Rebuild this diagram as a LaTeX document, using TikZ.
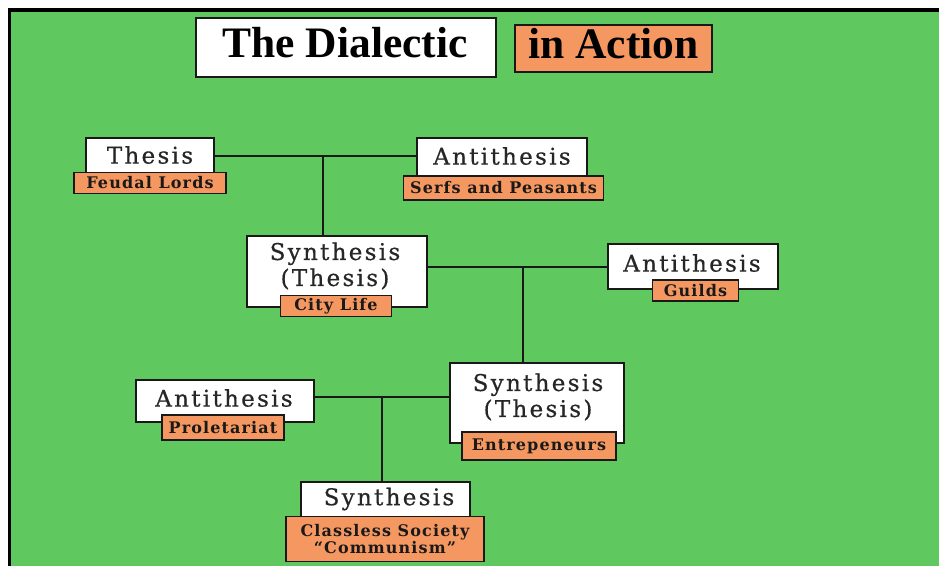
\documentclass[tikz,border=0pt]{standalone}
\usepackage{fontspec}
\setmainfont{DejaVu Serif}
\newfontfamily\titlefont{Liberation Serif}
\newfontfamily\wordfont[LetterSpace=10,FakeBold=0.6]{DejaVu Serif}
\newfontfamily\tagfont[LetterSpace=7]{DejaVu Serif}
\definecolor{bggreen}{RGB}{95,201,95}
\definecolor{tagorange}{RGB}{245,151,96}
\definecolor{edgegray}{RGB}{25,25,25}
\begin{document}
\begin{tikzpicture}[x=1pt,y=-1pt,
  box/.style={draw=edgegray, line width=2pt, fill=white, inner sep=0pt},
  tag/.style={draw=edgegray, line width=1.8pt, fill=tagorange, inner sep=0pt,
    align=center, text=black!90, font=\tagfont\bfseries\fontsize{16}{13.5}\selectfont},
  word/.style={inner sep=0pt, align=center, text=black!85,
    font=\wordfont\fontsize{23}{26}\selectfont},
  heading/.style={inner sep=0pt, font=\titlefont\bfseries\fontsize{43.5}{45}\selectfont},
  link/.style={draw=edgegray, line width=2pt}]

\useasboundingbox (0,0) rectangle (939,566);

% page, green panel and its top/left frame
\fill[white] (0,0) rectangle (939,566);
\fill[bggreen] (9,10) rectangle (939,566);
\draw[black, line width=3.5pt] (9.5,566) -- (9.5,10) -- (939,10);

% heading
\node[box, minimum width=300pt, minimum height=59pt] (titlebox) at (346,47.5) {};
\node[heading] (titletext) at (345,43) {The Dialectic};
\node[box, fill=tagorange, minimum width=197pt, minimum height=47pt] (actionbox) at (613.5,48.5) {};
\node[heading] (actiontext) at (613.5,44) {in Action};

% first stage
\node[box, minimum width=128pt, minimum height=35pt] (thesis) at (150,155) {};
\node[tag, minimum width=152pt, minimum height=21pt] (feudal) at (150,183) {Feudal Lords};
\node[word] (thesistext) at (150,155) {Thesis};

\node[box, minimum width=170pt, minimum height=38pt] (anti1) at (501.5,157) {};
\node[tag, minimum width=200pt, minimum height=24pt] (serfs) at (503.5,188) {Serfs and Peasants};
\node[word] (anti1text) at (502,156) {Antithesis};

% second stage
\node[box, minimum width=180pt, minimum height=71pt] (syn1) at (336.5,271) {};
\node[tag, minimum width=111pt, minimum height=21pt] (city) at (336,306) {City Life};
\node[word] (syn1text) at (335,266) {Synthesis\\(Thesis)};

\node[box, minimum width=170pt, minimum height=45pt] (anti2) at (692.5,266) {};
\node[tag, minimum width=86pt, minimum height=21pt] (guilds) at (695.5,290.5) {Guilds};
\node[word] (anti2text) at (692,263) {Antithesis};

% third stage
\node[box, minimum width=174pt, minimum height=80pt] (syn2) at (537,403) {};
\node[tag, minimum width=154pt, minimum height=28pt] (entre) at (539,446) {Entrepeneurs};
\node[word] (syn2text) at (538,397) {Synthesis\\(Thesis)};

\node[box, minimum width=178pt, minimum height=42pt] (anti3) at (224.5,401) {};
\node[tag, minimum width=122pt, minimum height=25pt] (prol) at (223,427.5) {Proletariat};
\node[word] (anti3text) at (224,398) {Antithesis};

% final stage
\node[box, minimum width=169pt, minimum height=35pt] (syn3) at (385.5,499.5) {};
\node[tag, minimum width=198pt, minimum height=45pt] (classless) at (385,539) {Classless Society\\“Communism”};
\node[word] (syn3text) at (389,499) {Synthesis};

% connectors: each pair joins on a line that drops to its synthesis
\coordinate (j1) at (322.5,156);
\draw[link] (thesis.east |- j1) -- (anti1.west |- j1);
\draw[link] (j1) -- (j1 |- syn1.north);

\coordinate (j2) at (523,267);
\draw[link] (syn1.east |- j2) -- (anti2.west |- j2);
\draw[link] (j2) -- (j2 |- syn2.north);

\coordinate (j3) at (381.5,397);
\draw[link] (anti3.east |- j3) -- (syn2.west |- j3);
\draw[link] (j3) -- (j3 |- syn3.north);
\end{tikzpicture}
\end{document}
